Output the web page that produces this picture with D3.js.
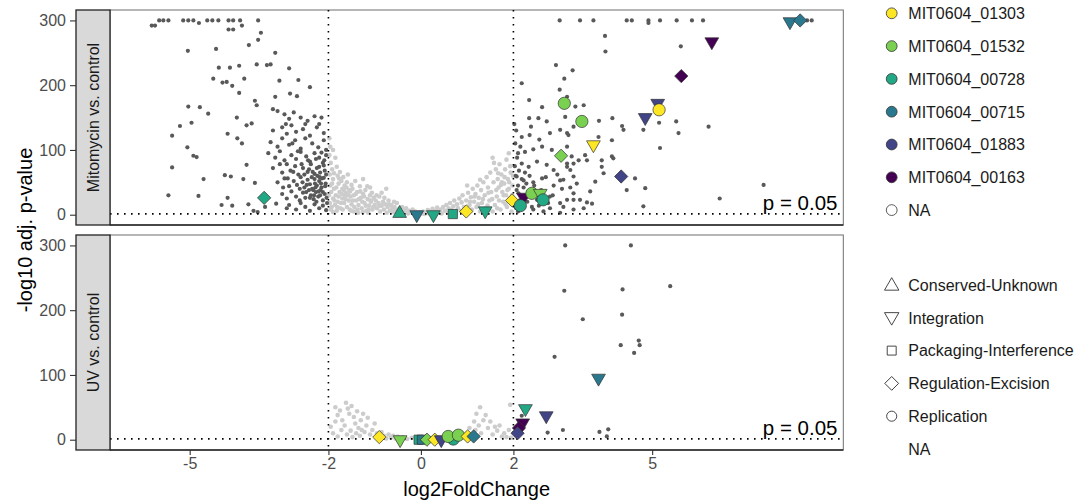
<!DOCTYPE html>
<html><head><meta charset="utf-8">
<script src="https://cdn.jsdelivr.net/npm/d3@7"></script>
<style>body{margin:0;background:#fff}svg{display:block}text{font-family:"Liberation Sans",Arial,Helvetica,sans-serif}</style>
</head><body><svg id="c" width="1079" height="503"></svg>
<script>
// ---------- DATA ----------
const genes = ["MIT0604_01303","MIT0604_01532","MIT0604_00728","MIT0604_00715","MIT0604_01883","MIT0604_00163","NA"];
const geneColors = ["#FDE725","#7AD151","#22A884","#2A788E","#414487","#440154","#FFFFFF"];
const functions = ["Conserved-Unknown","Integration","Packaging-Interference","Regulation-Excision","Replication","NA"];
const panels = ["Mitomycin vs. control","UV vs. control"];
const xTicks = [-5,-2,0,2,5];
const yTicks = [0,100,200,300];
const lfcCut = [-2,2];
const pCut = 0.05;

// Mitomycin: non-significant (light grey) points [log2FC, -log10 padj]
const mitoLight = [[-1.98,118],[-1.96,105],[-1.9,100],[-1.98,92],[-1.95,80],[-1.92,70],[-1.97,62],[-1.9,55],[-1.85,88],[-1.82,74],[-1.8,60],[-1.78,48],[-1.75,66],[-1.72,52],[-1.7,40],[-1.68,58],[-1.65,45],[-1.62,34],[-1.6,50],[-1.58,62],[-1.55,38],[-1.52,28],[-1.5,46],[-1.96,45],[-1.94,35],[-1.9,25],[-1.88,40],[-1.86,15],[-1.84,30],[-1.8,20],[-1.76,35],[-1.74,10],[-1.7,25],[-1.66,18],[-1.64,30],[-1.6,12],[-1.56,22],[-1.54,8],[-1.5,16],[-1.95,8],[-1.9,4],[-1.82,6],
[-1.99,30],[-1.97,18],[-1.93,12],[-1.92,48],[-1.88,64],[-1.87,22],[-1.83,42],[-1.81,12],[-1.78,28],[-1.77,56],[-1.73,18],[-1.71,32],[-1.69,8],[-1.67,38],[-1.63,24],[-1.61,42],[-1.57,30],[-1.53,36],[-1.51,6],[-1.47,22],[-1.44,12],[-1.41,32],[-1.37,8],[-1.34,24],[-1.31,36],[-1.27,20],[-1.23,28],[-1.19,14],[-1.16,44],[-1.13,8],[-1.09,22],[-1.06,34],[-1.03,12],
[-1.48,40],[-1.45,30],[-1.42,52],[-1.4,22],[-1.38,35],[-1.35,15],[-1.32,44],[-1.3,26],[-1.28,10],[-1.25,32],[-1.22,18],[-1.2,38],[-1.18,6],[-1.15,24],[-1.12,14],[-1.1,30],[-1.08,20],[-1.05,8],[-1.02,26],[-1.0,15],[-1.45,5],[-1.36,3],[-1.26,4],[-1.14,3],[-1.25,55],[-1.1,42],
[-0.98,22],[-0.95,10],[-0.92,18],[-0.9,28],[-0.88,5],[-0.85,14],[-0.82,20],[-0.8,8],[-0.77,16],[-0.74,3],[-0.72,12],[-0.7,22],[-0.67,6],[-0.64,15],[-0.62,10],[-0.6,4],[-0.57,12],[-0.54,7],[-0.52,18],[-0.5,3],[-0.75,40],[-0.85,34],[-0.96,30],[-0.9,14],[-0.79,26],[-0.69,16],[-0.58,20],
[-0.47,9],[-0.44,5],[-0.41,12],[-0.38,3],[-0.35,7],[-0.32,10],[-0.28,2],[-0.25,6],[-0.22,4],[-0.18,8],[-0.15,2],[-0.12,5],[-0.08,3],[-0.05,1],[-0.02,4],
[0.02,2],[0.05,5],[0.08,1],[0.12,4],[0.15,7],[0.18,2],[0.22,5],[0.25,9],[0.28,3],[0.32,6],[0.35,11],[0.38,4],[0.42,8],[0.45,2],[0.48,12],
[0.52,6],[0.55,15],[0.58,3],[0.6,10],[0.63,18],[0.66,7],[0.7,13],[0.72,22],[0.75,4],[0.78,16],[0.8,10],[0.83,25],[0.86,6],[0.88,19],[0.9,30],[0.93,12],[0.96,3],[0.98,22],[1.0,45],
[1.02,34],[1.05,15],[1.08,27],[1.1,8],[1.12,40],[1.15,20],[1.18,32],[1.2,12],[1.22,45],[1.25,26],[1.28,5],[1.3,38],[1.32,18],[1.35,50],[1.38,30],[1.4,10],[1.42,58],[1.45,42],[1.48,22],[1.5,65],[1.28,54],
[1.06,20],[1.16,28],[1.24,16],[1.34,24],[1.44,14],[1.46,34],[1.54,24],[1.63,38],[1.69,22],[1.73,46],[1.79,30],[1.83,16],[1.87,38],[1.91,50],[1.97,30],[1.99,60],[1.93,75],[1.81,58],[1.67,64],
[1.52,35],[1.55,88],[1.57,50],[1.6,15],[1.62,70],[1.64,28],[1.66,55],[1.68,42],[1.7,78],[1.72,8],[1.74,62],[1.76,35],[1.78,20],[1.8,48],[1.82,70],[1.84,30],[1.86,12],[1.88,55],[1.9,40],[1.92,25],[1.94,65],[1.96,5],[1.98,45],[1.55,5],[1.65,10],[1.75,50],[1.85,85],[1.95,18],[1.58,80],[1.9,95]];

// Mitomycin: significant (dark grey) points
const mitoDark = [[-5.82,292],[-5.75,292],[-5.66,300],[-5.57,300],[-5.46,300],[-5.14,300],[-5.03,300],[-4.92,300],[-4.80,296],[-4.62,300],[-4.51,300],[-4.38,300],[-4.16,300],[-4.06,300],[-3.91,300],[-4.16,286],[-4.06,286],[-3.87,292],[-3.52,300],[-3.46,281],
[-5.04,253],[-4.43,256],[-3.72,262],[-3.52,270],[-3.15,250],[-4.37,227],[-4.13,227],[-3.93,230],[-3.55,232],[-3.33,231],[-3.25,232],[-2.85,226],[-4.49,210],[-4.29,204],[-4.2,205],[-4.08,199],[-3.93,188],[-3.82,210],[-3.06,207],[-2.65,208],[-2.40,197],[-2.83,187],[-2.68,183],[-3.15,182],[-3.59,176],[-3.55,169],[-5.03,167],[-4.78,166],[-4.6,156],[-5.21,137],[-5.38,122],[-4.96,142],[-4.18,125],[-3.98,150],[-3.77,138],[-3.66,141],[-3.97,118],[-3.87,110],[-5.05,104],[-4.92,91],[-4.85,89],[-5.38,73],[-4.70,55],[-4.24,61],[-4.11,59],[-3.77,77],[-3.84,55],[-3.59,49],[-5.46,30],[-4.81,29],[-4.18,26],[-4.31,15],[-4.08,14],[-3.73,16],[-3.62,6],[-3.53,4],[-3.13,17],[-2.90,10],[-3.37,12],
[-3.1,160],[-2.95,155],[-2.85,148],[-2.75,158],[-2.6,150],[-2.45,145],[-2.3,152],[-2.2,140],[-3.2,163],
[-3.2,130],[-3.0,135],[-2.9,125],[-2.8,138],[-2.7,128],[-2.55,132],[-2.4,122],[-2.25,135],[-2.1,126],
[-3.25,112],[-3.1,105],[-3.0,118],[-2.85,108],[-2.72,115],[-2.6,102],[-2.5,118],[-2.35,110],[-2.22,104],[-2.1,115],[-2.05,100],
[-3.3,95],[-3.15,88],[-3.05,98],[-2.95,84],[-2.8,92],[-2.7,86],[-2.6,97],[-2.48,90],[-2.4,82],[-2.3,95],[-2.2,88],[-2.12,80],[-2.05,92],
[-3.2,72],[-3.0,65],[-2.9,78],[-2.82,68],[-2.72,75],[-2.65,62],[-2.55,72],[-2.45,66],[-2.38,78],[-2.3,63],[-2.25,72],[-2.18,65],[-2.1,76],[-2.05,62],
[-3.1,50],[-2.95,56],[-2.85,44],[-2.75,52],[-2.68,46],[-2.6,58],[-2.52,42],[-2.45,54],[-2.4,47],[-2.35,40],[-2.3,55],[-2.25,45],[-2.2,52],[-2.15,42],[-2.1,57],[-2.06,48],
[-3.0,32],[-2.9,25],[-2.8,36],[-2.7,28],[-2.62,22],[-2.55,34],[-2.5,26],[-2.42,38],[-2.38,30],[-2.32,24],[-2.27,35],[-2.22,28],[-2.17,38],[-2.12,22],[-2.08,32],[-2.04,26],
[-2.85,15],[-2.7,8],[-2.6,18],[-2.5,12],[-2.4,6],[-2.3,16],[-2.2,10],[-2.12,14],[-2.05,7],
[-2.33,38],[-2.28,42],[-2.24,60],[-2.16,48],[-2.12,35],[-2.08,68],[-2.36,58],[-2.42,70],[-2.48,35],[-2.18,30],[-2.26,20],[-2.14,56],
[-2.03,18],[-2.07,44],[-2.09,84],[-2.15,96],[-2.2,74],[-2.27,86],[-2.34,66],[-2.44,84],[-2.52,62],[-2.58,78],[-2.66,98],[-2.76,66],[-2.88,56],[-2.98,42],[-3.05,78],[-2.62,40],[-2.21,36],[-2.29,48],[-2.19,58],[-2.31,30],[-2.4,26],[-2.47,46],[-2.56,50],[-2.78,110],[-2.92,140],[-2.5,140],[-2.15,150],
[3.0,300],[3.44,300],[2.92,231],[3.28,223],[3.10,210],[3.0,193],[3.16,182],[2.18,203],[2.34,177],[2.62,166],[2.34,149],[2.54,149],[2.72,144],[2.38,136],[2.18,120],[2.35,123],[2.56,116],[2.79,126],[3.01,131],[3.19,123],[2.15,105],[2.25,97],[2.43,101],[2.62,105],[2.83,100],[3.16,105],[2.18,79],[2.33,74],[2.51,82],[2.72,77],[2.87,69],[3.16,74],[3.3,79],[2.07,59],[2.22,53],[2.43,50],[2.62,56],[2.87,45],[3.01,53],[3.23,42],[3.37,48],[2.11,33],[2.29,28],[2.51,23],[2.79,28],[3.01,18],[3.30,23],[2.18,12],[2.43,8],[2.79,10],[3.01,3],[3.3,8],
[3.73,300],[4.45,300],[4.56,300],[4.92,300],[4.92,296],[5.17,300],[5.53,300],[5.86,300],[6.1,300],[3.98,276],[3.99,252],[5.62,260],[6.22,136],[7.41,46],[6.46,25],[5.15,142],[5.17,103],[5.52,144],[5.57,126],[4.81,131],[4.35,137],[4.38,131],[4.14,149],[3.85,145],[4.13,115],[3.84,120],[3.16,126],[3.30,136],[3.12,151],[3.34,167],[3.52,169],[3.55,92],[3.59,84],[3.41,84],[3.26,90],[3.16,79],[3.91,84],[3.91,74],[4.13,90],[4.16,87],[3.95,64],[3.77,51],[3.66,36],[3.44,23],[3.59,19],[3.70,17],[4.63,56],[4.85,41],[4.81,13],[4.45,38],[3.23,69],[3.30,59],[3.08,54],[3.30,33],[3.16,23],[3.08,12],[3.52,10],[8.35,300],[8.45,300],
[2.03,75],[2.05,60],[2.08,88],[2.1,45],[2.12,68],[2.15,30],[2.04,20],[2.07,38],[2.18,55],[2.2,15],[2.22,42],[2.25,65],[2.06,10],[2.1,5],[2.14,22],[2.28,48],[2.3,20],[2.35,60],[2.32,35],[2.4,12],[2.45,45],[2.5,30],[2.55,14],[2.6,38],[2.65,5],[2.7,58],[2.75,18],[2.85,30],[2.95,62],[3.05,40],[2.04,110],[2.06,130],[2.1,95],[2.02,140]];

// Mitomycin: highlighted prophage genes [gene, function, log2FC, -log10 padj]
const mitoGenes = [["MIT0604_00715","Integration",7.98,298],["MIT0604_00715","Regulation-Excision",8.2,300],["MIT0604_00163","Integration",6.29,267],["MIT0604_00163","Regulation-Excision",5.63,214],["MIT0604_01883","Integration",5.12,172],["MIT0604_01883","Integration",4.85,150],["MIT0604_01303","Replication",5.15,162],["MIT0604_01303","Integration",3.73,108],["MIT0604_01883","Regulation-Excision",4.33,59],["MIT0604_01532","Replication",3.10,172],["MIT0604_01532","Replication",3.48,144],["MIT0604_01532","Regulation-Excision",3.03,91],["MIT0604_00728","Regulation-Excision",-3.39,26],
["MIT0604_01303","Regulation-Excision",1.97,22],["MIT0604_00163","Integration",2.22,27],["MIT0604_00728","Replication",2.15,14],["MIT0604_01532","Replication",2.4,33],["MIT0604_01532","Integration",2.58,33],["MIT0604_00728","Replication",2.64,23],
["MIT0604_00728","Conserved-Unknown",-0.46,2],["MIT0604_00715","Integration",-0.09,0],["MIT0604_00728","Integration",0.27,0],["MIT0604_00728","Packaging-Interference",0.69,1],["MIT0604_01303","Regulation-Excision",0.98,5],["MIT0604_00728","Integration",1.39,6]];

// UV: light grey points
const uvLight = [[-1.85,50],[-1.8,38],[-1.75,45],[-1.7,30],[-1.62,57],[-1.58,48],[-1.55,40],[-1.5,52],[-1.45,35],[-1.42,25],[-1.38,44],[-1.35,18],[-1.3,30],[-1.25,40],[-1.22,12],[-1.18,22],[-1.15,34],[-1.1,8],[-1.05,15],[-1.0,25],[-1.95,20],[-1.9,10],[-1.85,28],[-1.8,5],[-1.72,15],[-1.65,22],[-1.6,8],[-1.52,14],[-1.48,4],[-1.4,10],[-1.32,6],[-1.28,15],[-0.95,10],[-0.9,4],[-0.85,12],[-0.8,6],[-0.75,2],[-0.7,8],[-0.65,3],[-0.6,6],[-0.55,2],[-0.5,5],[-0.45,2],[-0.4,4],[-0.3,1],[-0.2,3],[-0.1,1],[0,2],[0.1,1],[0.2,3],[0.3,2],[0.4,4],[0.5,2],[0.6,5],[0.7,3],[0.8,6],[0.9,4],[1.0,10],[1.05,18],[1.1,6],[1.15,28],[1.18,15],[1.2,40],[1.25,22],[1.28,50],[1.3,10],[1.35,30],[1.4,38],[1.45,18],[1.5,28],[1.55,8],[1.6,20],[1.65,14],[1.7,22],[1.75,5],[1.8,10],[1.85,4],[1.93,54],[1.9,15],[1.95,3]];
// UV: dark grey points
const uvDark = [[3.12,300],[4.54,300],[3.10,230],[4.36,232],[5.39,237],[3.50,186],[4.35,193],[4.71,153],[4.73,146],[4.32,146],[4.61,134],[2.89,128],[2.18,37],[2.74,11],[3.07,15],[3.86,12],[4.05,16],[4.02,5]];
// UV: highlighted prophage genes
const uvGenes = [["MIT0604_00715","Integration",3.84,95],["MIT0604_00728","Integration",2.26,48],["MIT0604_01883","Integration",2.71,37],["MIT0604_00163","Integration",2.2,26],["MIT0604_00163","Regulation-Excision",2.12,18],["MIT0604_01883","Regulation-Excision",2.09,10],
["MIT0604_01303","Regulation-Excision",-0.9,4],["MIT0604_01532","Integration",-0.45,0],["MIT0604_00728","Packaging-Interference",-0.05,0],["MIT0604_00715","Packaging-Interference",0.02,0],["MIT0604_01532","Regulation-Excision",0.13,0],["MIT0604_01303","Regulation-Excision",0.3,0],["MIT0604_01883","Integration",0.44,0],["MIT0604_00728","Replication",0.70,1],["MIT0604_01532","Replication",0.59,5],["MIT0604_01532","Replication",0.81,7],["MIT0604_01303","Regulation-Excision",1.01,5],["MIT0604_00715","Regulation-Excision",1.14,5]];

// ---------- DRAW ----------
const svg = d3.select("#c");
const left = 110, right = 843.3;
const panelBoxes = [{top:10,bottom:225},{top:235,bottom:450}];
const x = d3.scaleLinear().domain([-6.723, 9.133]).range([left, right]);
const color = d3.scaleOrdinal().domain(genes).range(geneColors);
const symTypes = {"Conserved-Unknown":"up","Integration":"down","Packaging-Interference":"square","Regulation-Excision":"diamond","Replication":"circle"};
function symPath(fn){
  const t = symTypes[fn];
  if(t==="up"||t==="down") return d3.symbol(d3.symbolTriangle, 82)();
  if(t==="square") return d3.symbol(d3.symbolSquare, 85)();
  if(t==="diamond") return d3.symbol(d3.symbolSquare, 88)();
  return d3.symbol(d3.symbolCircle, 118)();
}
function symRot(fn){const t=symTypes[fn]; return t==="down"?180:(t==="diamond"?45:0);}

const datasets = [[mitoLight, mitoDark, mitoGenes],[uvLight, uvDark, uvGenes]];
panelBoxes.forEach((b,i)=>{
  const y = d3.scaleLinear().domain([-15.9, 316.1]).range([b.bottom, b.top]);
  const g = svg.append("g");
  g.append("rect").attr("x",left).attr("y",b.top).attr("width",right-left).attr("height",b.bottom-b.top).attr("fill","#fff").attr("stroke","#6e6e6e").attr("stroke-width",1);
  const [lt, dk, hl] = datasets[i];
  g.append("g").selectAll("circle").data(lt).join("circle").attr("cx",d=>x(d[0])).attr("cy",d=>y(d[1])).attr("r",2.3).attr("fill","#cccccc");
  g.append("g").selectAll("circle").data(dk).join("circle").attr("cx",d=>x(d[0])).attr("cy",d=>y(d[1])).attr("r",2.1).attr("fill","#595959");
  // threshold lines
  const yc = y(-Math.log10(pCut));
  g.append("line").attr("x1",left).attr("x2",right).attr("y1",yc).attr("y2",yc).attr("stroke","#000").attr("stroke-width",1.6).attr("stroke-dasharray","1.6,5.4");
  lfcCut.forEach(c=>{
    g.append("line").attr("x1",x(c)).attr("x2",x(c)).attr("y1",b.top).attr("y2",b.bottom).attr("stroke","#000").attr("stroke-width",1.6).attr("stroke-dasharray","1.6,5.4");
  });
  g.append("g").selectAll("path").data(hl).join("path")
    .attr("d",d=>symPath(d[1]))
    .attr("transform",d=>`translate(${x(d[2])},${y(d[3])}) rotate(${symRot(d[1])})`)
    .attr("fill",d=>color(d[0])).attr("stroke","#333").attr("stroke-width",0.7);
  g.append("text").attr("x",837.5).attr("y",yc-4).attr("text-anchor","end").attr("font-size",20.5).attr("fill","#000").text("p = 0.05");
  // bottom axis line
  g.append("line").attr("x1",left).attr("x2",right).attr("y1",b.bottom).attr("y2",b.bottom).attr("stroke","#222").attr("stroke-width",1.3);
  // strip
  g.append("rect").attr("x",76).attr("y",b.top).attr("width",left-76).attr("height",b.bottom-b.top).attr("fill","#d9d9d9").attr("stroke","#222").attr("stroke-width",1.3);
  g.append("text").attr("transform",`translate(${93+5.5},${(b.top+b.bottom)/2}) rotate(-90)`).attr("text-anchor","middle").attr("font-size",16).attr("fill","#1a1a1a").text(panels[i]);
  // y axis
  const ya = g.append("g").attr("transform","translate(76,0)").call(d3.axisLeft(y).tickValues(yTicks).tickSize(6).tickPadding(4));
  ya.select(".domain").remove();
  ya.selectAll("line").attr("stroke","#333").attr("stroke-width",1.1);
  ya.selectAll("text").attr("font-size",16).attr("fill","#4d4d4d").style("font-family","'Liberation Sans',Arial,sans-serif");
});
// x axis
const xa = svg.append("g").attr("transform",`translate(0,450)`).call(d3.axisBottom(x).tickValues(xTicks).tickSize(5).tickPadding(3).tickFormat(d3.format("d")));
xa.select(".domain").remove();
xa.selectAll("line").attr("stroke","#333").attr("stroke-width",1.1);
xa.selectAll("text").attr("font-size",16).attr("fill","#4d4d4d").style("font-family","'Liberation Sans',Arial,sans-serif").text(d=>String(d).replace("−","-"));

svg.append("text").attr("x",(left+right)/2).attr("y",496).attr("text-anchor","middle").attr("font-size",20).attr("fill","#000").text("log2FoldChange");
svg.append("text").attr("transform","translate(32,230) rotate(-90)").attr("text-anchor","middle").attr("font-size",20).attr("fill","#000").text("-log10 adj. p-value");

// legends
const lg = svg.append("g");
const rowH = 32.8;
genes.forEach((gname,i)=>{
  const cy = 13.3 + i*rowH;
  lg.append("circle").attr("cx",891.7).attr("cy",cy).attr("r",5.4).attr("fill",color(gname)).attr("stroke","#333").attr("stroke-width",0.8);
  lg.append("text").attr("x",908.3).attr("y",cy+5.8).attr("font-size",16).attr("fill","#1a1a1a").text(gname);
});
functions.forEach((f,i)=>{
  const cy = 285 + i*rowH;
  if(f!=="NA"){
    let p, rot=symRot(f), t=symTypes[f];
    if(t==="up"||t==="down") p=d3.symbol(d3.symbolTriangle,90)();
    else if(t==="square") p=d3.symbol(d3.symbolSquare,80)();
    else if(t==="diamond") p=d3.symbol(d3.symbolSquare,95)();
    else p=d3.symbol(d3.symbolCircle,80)();
    lg.append("path").attr("d",p).attr("transform",`translate(891.7,${cy+(t==="up"?1:(t==="down"?-1:0))}) rotate(${rot})`).attr("fill","none").attr("stroke","#333").attr("stroke-width",0.9);
  }
  lg.append("text").attr("x",908.3).attr("y",cy+5.8).attr("font-size",16).attr("fill","#1a1a1a").text(f);
});
</script></body></html>
